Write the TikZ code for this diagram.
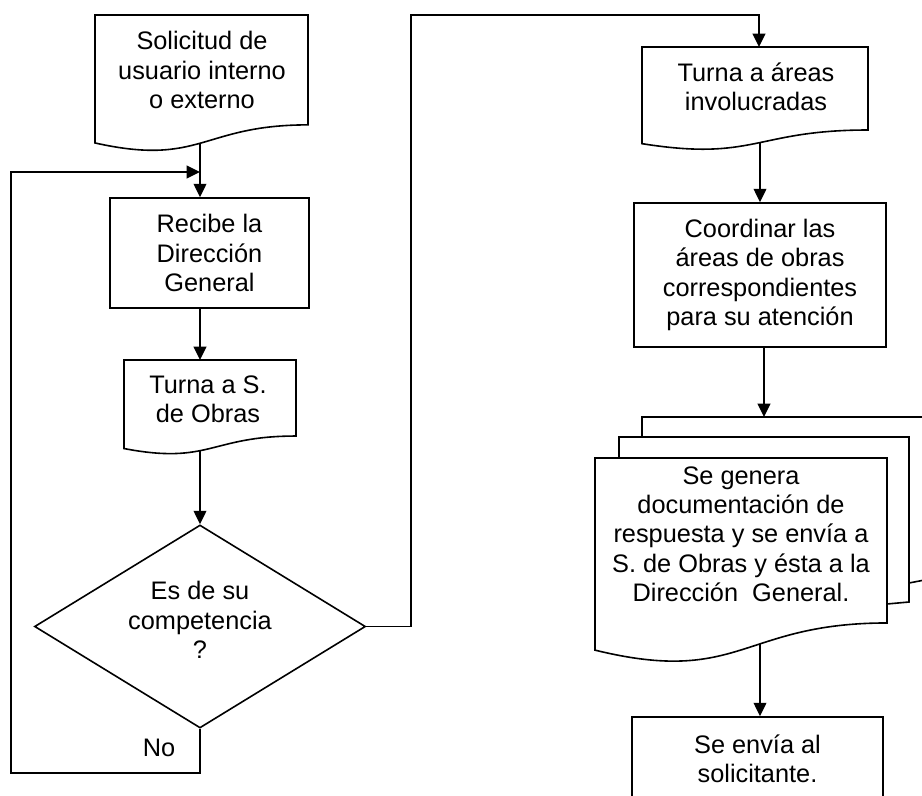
\documentclass[tikz,border=0pt]{standalone}
\usepackage{fontspec}
\setmainfont{Liberation Sans}
\usetikzlibrary{arrows.meta,shapes.geometric}
\pgfdeclarelayer{background}
\pgfsetlayers{background,main}

\tikzset{
  flow/.style={line width=1.2pt},
  arr/.style={flow, -{Triangle[length=10pt,width=9.5pt]}},
  lbl/.style={font=\fontsize{19}{22}\selectfont, align=center, inner sep=0pt},
  box/.style={flow, draw, fill=white, rectangle, lbl},
  sheet/.style={flow, draw, fill=white},
}

% wavy-bottom document outline: left, top, right, height
\newcommand\docoutline[4]{%
  \path[sheet] (#1,#2) -- (#3,#2) -- (#3,{#2+0.802*#4})
    .. controls ({(#1+#3)/2},{#2+0.802*#4}) and ({(#1+#3)/2},{#2+1.108*#4}) .. (#1,{#2+0.934*#4}) -- cycle;}

\begin{document}
\begin{tikzpicture}[x=0.75pt,y=-0.75pt]
\useasboundingbox (0,0) rectangle (922,796);
\clip (0,0) rectangle (922,796);

% ---------- left column ----------
\docoutline{95}{15}{308}{137}
\node[lbl] (sol) at (202,70) {Solicitud de\\usuario interno\\o externo};

\node[box, minimum width=149.25pt, minimum height=82.5pt] (recibe) at (209.5,253)
  {Recibe la\\Dirección\\General};

\docoutline{124}{360}{296}{94.8}
\node[lbl] (tsd) at (208,399) {Turna a S.\\de Obras};
\coordinate (tsdtop) at (200,360);

\node[flow, draw, fill=white, diamond, aspect=1.63, inner sep=0pt,
      minimum width=248.25pt, minimum height=152.25pt] (dec) at (200,626.5) {};
\node[lbl] (dectext) at (200,620) {Es de su\\competencia\\?};

\node[lbl] (no) at (159,748) {No};

% ---------- right column ----------
\docoutline{642}{47}{868}{103.5}
\node[lbl] (tua) at (756,87) {Turna a áreas\\involucradas};
\coordinate (tuatop) at (759,47);

\node[box, minimum width=189pt, minimum height=108pt] (coord) at (760,275)
  {Coordinar las\\áreas de obras\\correspondientes\\para su atención};

% stacked documents
\path[sheet] (642,437) -- (642,417) -- (935,417) -- (935,578) -- (909,583);
\path[sheet] (619,458) -- (619,437) -- (909,437) -- (909,602) -- (887,604);
\coordinate (stacktop) at (764,417);
\docoutline{595}{458}{887}{205.7}
\node[lbl] (multi) at (741,534)
  {Se genera\\documentación de\\respuesta y se envía a\\S. de Obras y ésta a la\\Dirección~~General.};

\node[box, minimum width=188.25pt, minimum height=62.25pt] (final) at (757.5,758.5)
  {Se envía al\\solicitante.};

% ---------- connectors ----------
\begin{pgfonlayer}{background}
  \coordinate (lane) at (200,0);
  \coordinate (rlane) at (760,0);
  \coordinate (clane) at (764,0);
  \coordinate (noA) at (200,773);
  \coordinate (noB) at (11,172);
  \coordinate (yesA) at (411,15);

  \draw[arr] (sol.center -| lane) -- (lane |- recibe.north);
  \draw[arr] (recibe.center -| lane) -- (tsdtop);
  \draw[arr] (tsd.center -| lane) -- (dec.north);
  \draw[arr] (dec.south) -- (noA) -| (noB) -- (lane |- noB);
  \draw[arr] (dec.east) -| (yesA) -| (tuatop);
  \draw[arr] (tua.center -| rlane) -- (rlane |- coord.north);
  \draw[arr] (coord.center -| clane) -- (stacktop);
  \draw[arr] (multi.center -| rlane) -- (rlane |- final.north);
\end{pgfonlayer}
\end{tikzpicture}
\end{document}
